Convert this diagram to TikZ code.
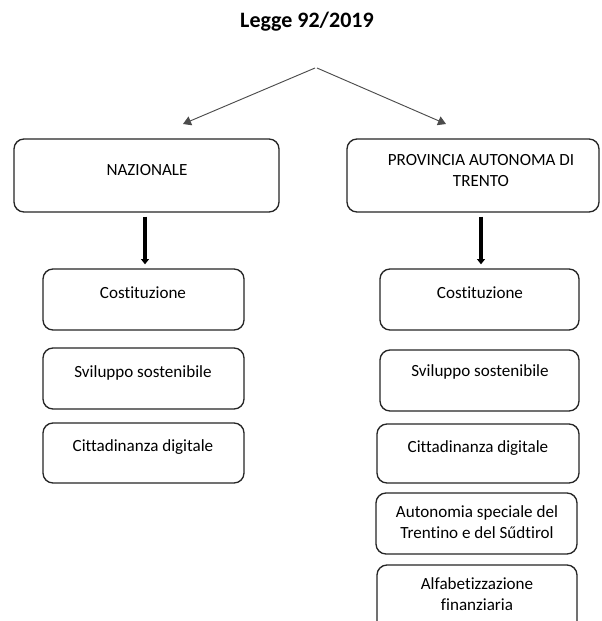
\documentclass[tikz,border=0pt]{standalone}
\usepackage{fontspec}
\setmainfont[RawFeature={-liga;-clig;-calt;-dlig}]{Carlito}
\usetikzlibrary{arrows.meta,fit}
\begin{document}
\begin{tikzpicture}[x=0.75pt,y=-0.75pt,
  box/.style={draw=black!85, line width=1pt, rounded corners=7.5pt, inner sep=0pt},
  txt/.style={font=\fontsize{12.8}{15.75}\selectfont, align=center, inner sep=0pt},
  thinarrow/.style={draw=black!70, line width=0.7pt, -{Triangle[length=6pt,width=7pt]}},
  thickarrow/.style={draw=black, line width=3pt, -{Triangle[length=4pt,width=6pt]}, shorten <=3pt, shorten >=3pt}]
\useasboundingbox (0,0) rectangle (601,621);
\clip (0,0) rectangle (601,621);
\fill[white] (0,0) rectangle (601,621);

\node[font=\bfseries\fontsize{16.5}{20}\selectfont, inner sep=0pt] (title) at (307,22) {Legge 92/2019};

% top level boxes
\node[box, fit={(14,139) (279,212)}] (nat) {};
\node[box, fit={(347,139) (599,212)}] (prov) {};
\node[txt] (natt) at (147,170) {NAZIONALE};
\node[txt] (provt) at (481,171) {PROVINCIA AUTONOMA DI\\TRENTO};

% thin arrows
\coordinate (srcl) at (315,68);
\coordinate (srcr) at (317,68);
\coordinate (endl) at (183,124);
\coordinate (endr) at (446,124);
\draw[thinarrow] (srcl) -- (endl);
\draw[thinarrow] (srcr) -- (endr);

% left column
\node[box, fit={(43,269) (244,330)}] (lc1) {};
\node[box, fit={(43,348) (244,409)}] (lc2) {};
\node[box, fit={(43,423) (244,483)}] (lc3) {};
\node[txt] (lc1t) at (143,293) {Costituzione};
\node[txt] (lc2t) at (143,373) {Sviluppo sostenibile};
\node[txt] (lc3t) at (143,447) {Cittadinanza digitale};

% right column
\node[box, fit={(380,269) (579,330)}] (rc1) {};
\node[box, fit={(380,350) (579,411)}] (rc2) {};
\node[box, fit={(377,424) (579,483)}] (rc3) {};
\node[box, fit={(376,493) (577,554)}] (rc4) {};
\node[box, fit={(377,565) (577,645)}] (rc5) {};
\node[txt] (rc1t) at (480,293) {Costituzione};
\node[txt] (rc2t) at (480,372) {Sviluppo sostenibile};
\node[txt] (rc3t) at (478,448) {Cittadinanza digitale};
\node[txt] (rc4t) at (477,522) {Autonomia speciale del\\Trentino e del Sűdtirol};
\node[txt] (rc5t) at (477,594) {Alfabetizzazione\\finanziaria};

% thick arrows
\draw[thickarrow] (nat.south -| 145,0) -- (lc1.north -| 145,0);
\draw[thickarrow] (prov.south -| 481,0) -- (rc1.north -| 481,0);
\end{tikzpicture}
\end{document}
